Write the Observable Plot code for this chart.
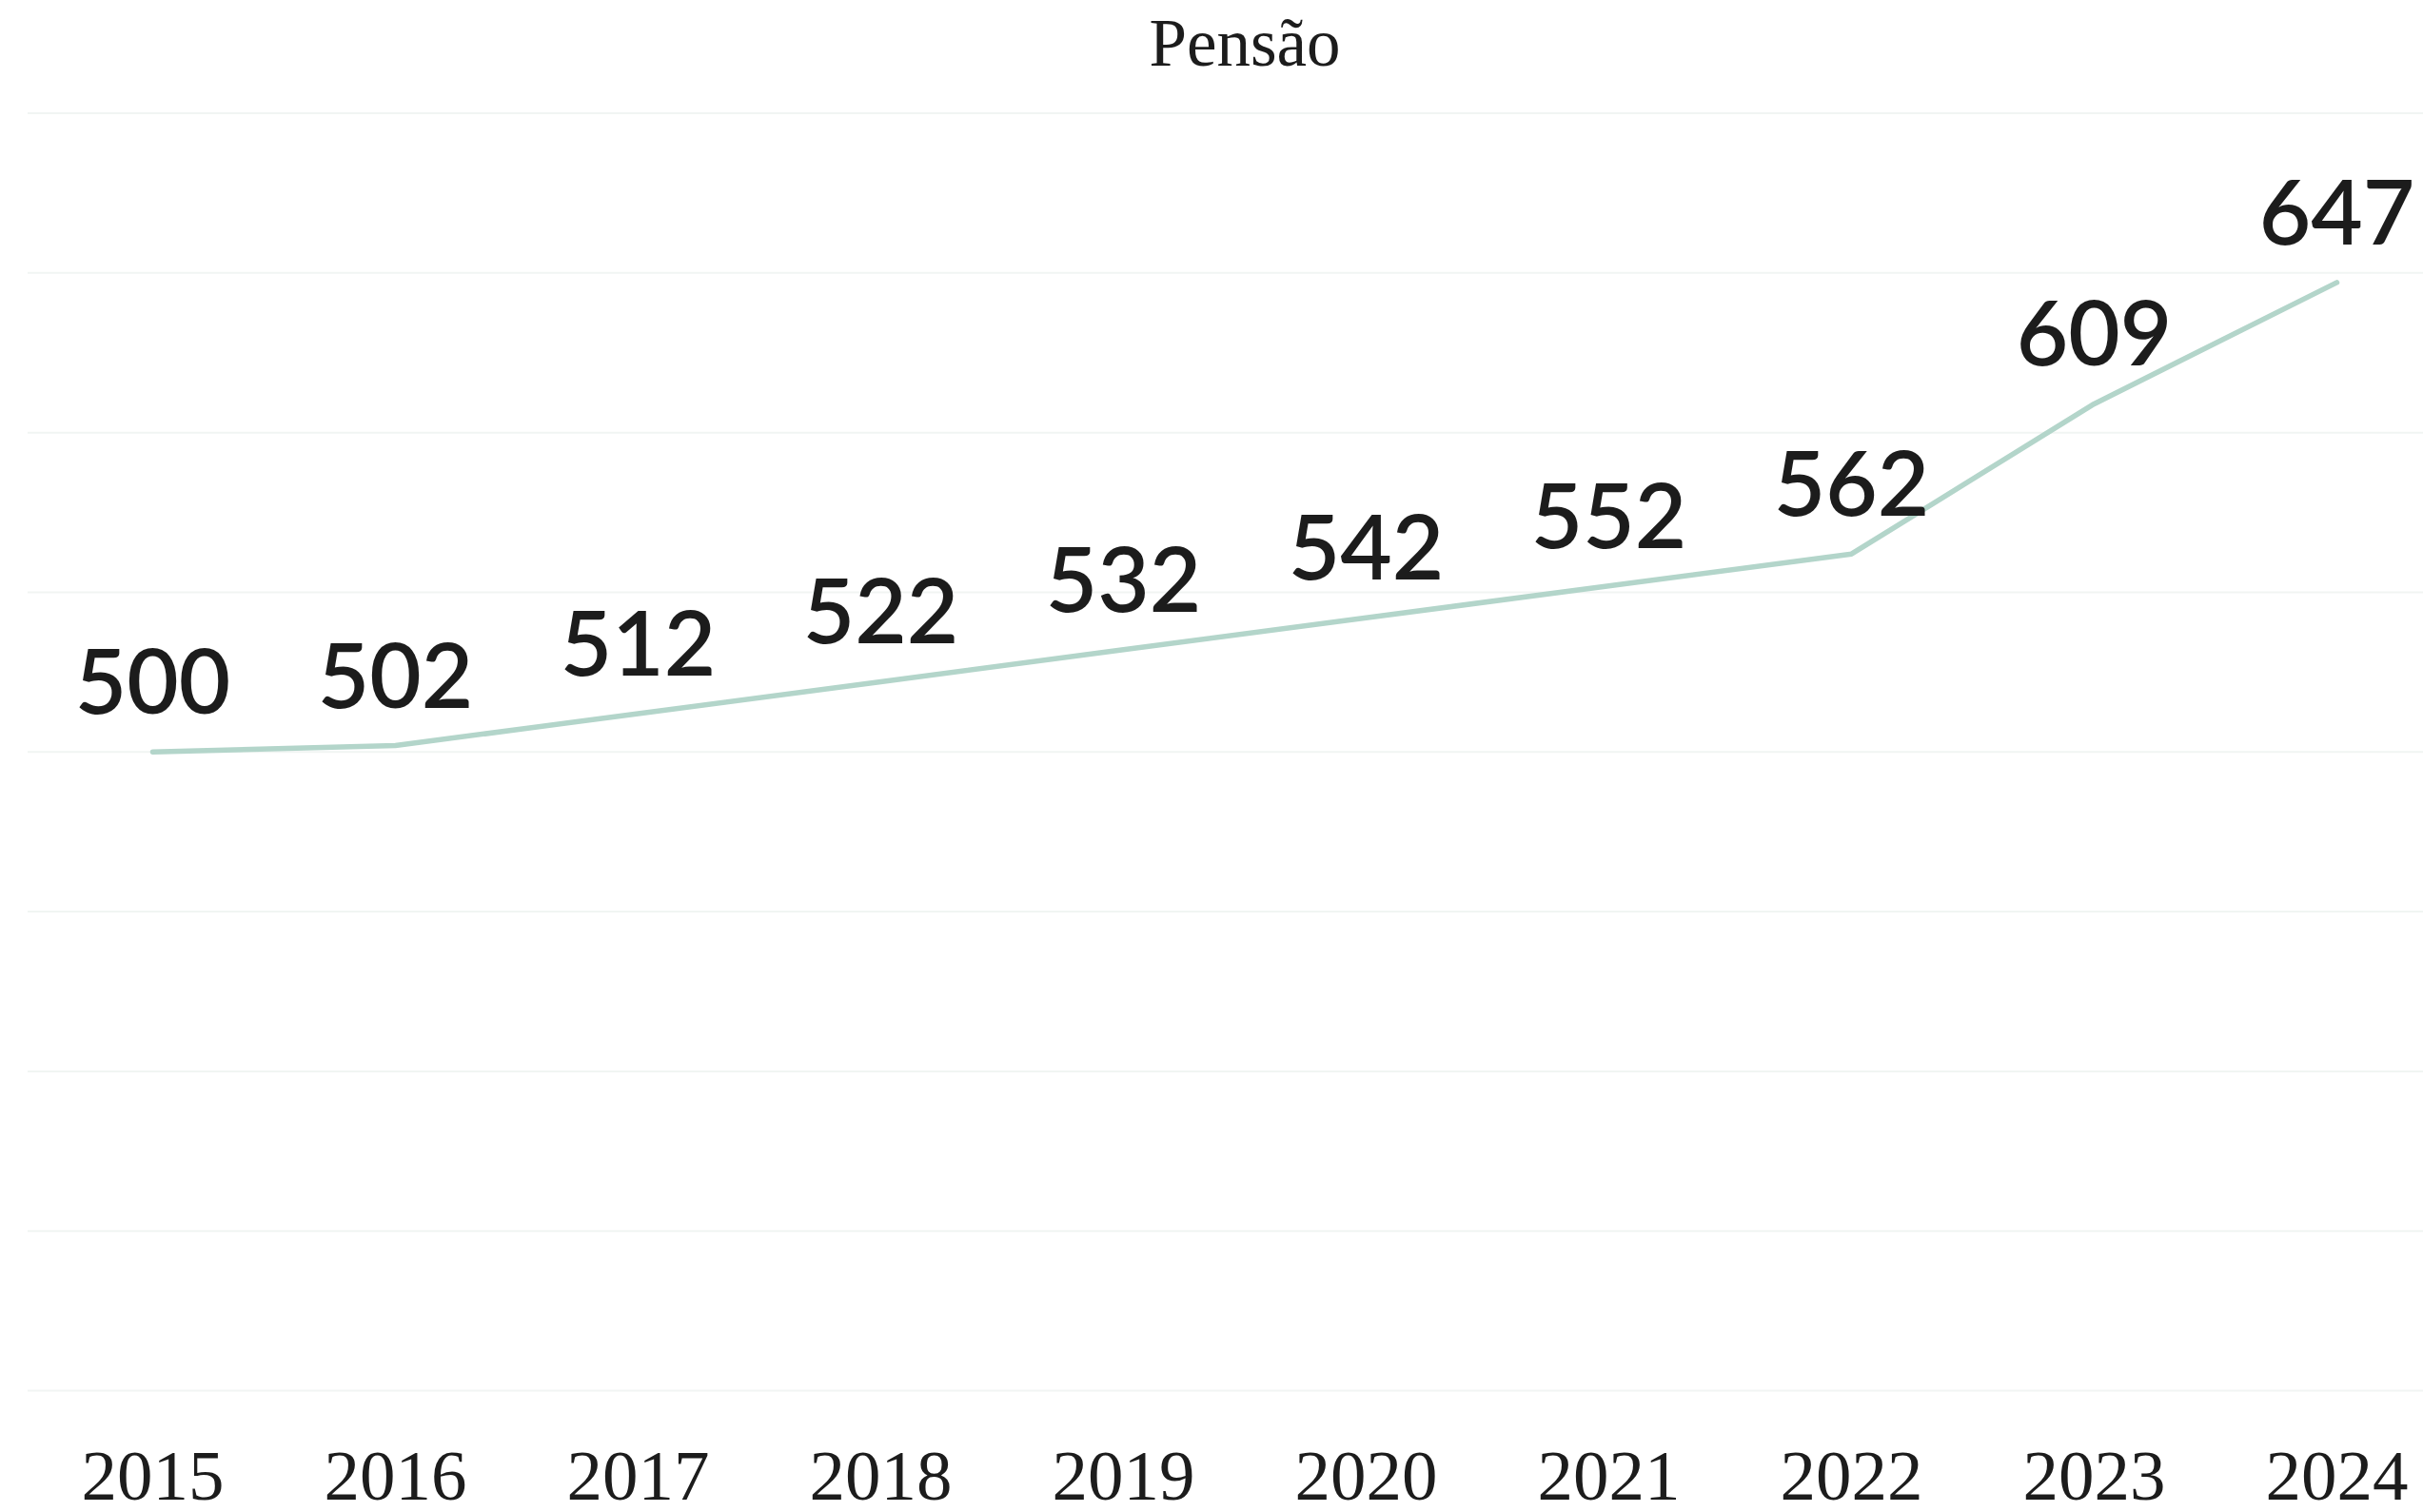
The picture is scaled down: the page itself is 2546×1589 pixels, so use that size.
<!DOCTYPE html>
<html>
<head>
<meta charset="utf-8">
<script src="https://cdn.jsdelivr.net/npm/d3@7"></script>
<script src="https://cdn.jsdelivr.net/npm/@observablehq/plot@0.6"></script>
<style>
  html, body { margin: 0; padding: 0; background: #ffffff; }
  #title {
    width: 2546px;
    height: 90px;
    line-height: 90px;
    font-family: "Liberation Serif", serif;
    font-size: 71px;
    color: #1c1c1c;
    text-align: center;
    padding-left: 70px;
    box-sizing: border-box;
  }
  #chart svg { display: block; overflow: visible; }
</style>
</head>
<body>
<div id="title">Pensão</div>
<div id="chart"></div>
<script>
const years = ["2015", "2016", "2017", "2018", "2019", "2020", "2021", "2022", "2023", "2024"];
const values = [500, 502, 512, 522, 532, 542, 552, 562, 609, 647];
const gridTicks = [300, 350, 400, 450, 500, 550, 600, 650, 700];

const data = years.map((year, i) => ({year, value: values[i]}));

const chart = Plot.plot({
  width: 2546,
  height: 1499,
  marginTop: 28.5,
  marginBottom: 128,
  marginLeft: 157,
  marginRight: 88,
  x: {type: "point", domain: years, padding: 0, axis: null},
  y: {domain: [300, 700], axis: null},
  marks: [
    Plot.ruleY(gridTicks, {stroke: "#f1f5f3", strokeWidth: 2, insetLeft: -128, insetRight: -88}),
    Plot.axisX({
      tickSize: 0,
      tickPadding: 61,
      fontSize: 75,
      fontFamily: "Liberation Serif",
      fill: "#1c1c1c",
      label: null
    }),
    Plot.line(data, {
      x: "year",
      y: "value",
      stroke: "#b3d5ca",
      strokeWidth: 5.5,
      strokeLinecap: "round",
      strokeLinejoin: "round"
    }),
    Plot.text(data, {
      x: "year",
      y: "value",
      text: d => String(d.value),
      dy: -40,
      lineAnchor: "bottom",
      textAnchor: "middle",
      fontSize: 94,
      fontWeight: 600,
      fontFamily: "Lato",
      fill: "#1c1c1c"
    })
  ]
});

document.getElementById("chart").appendChild(chart);
</script>
</body>
</html>
